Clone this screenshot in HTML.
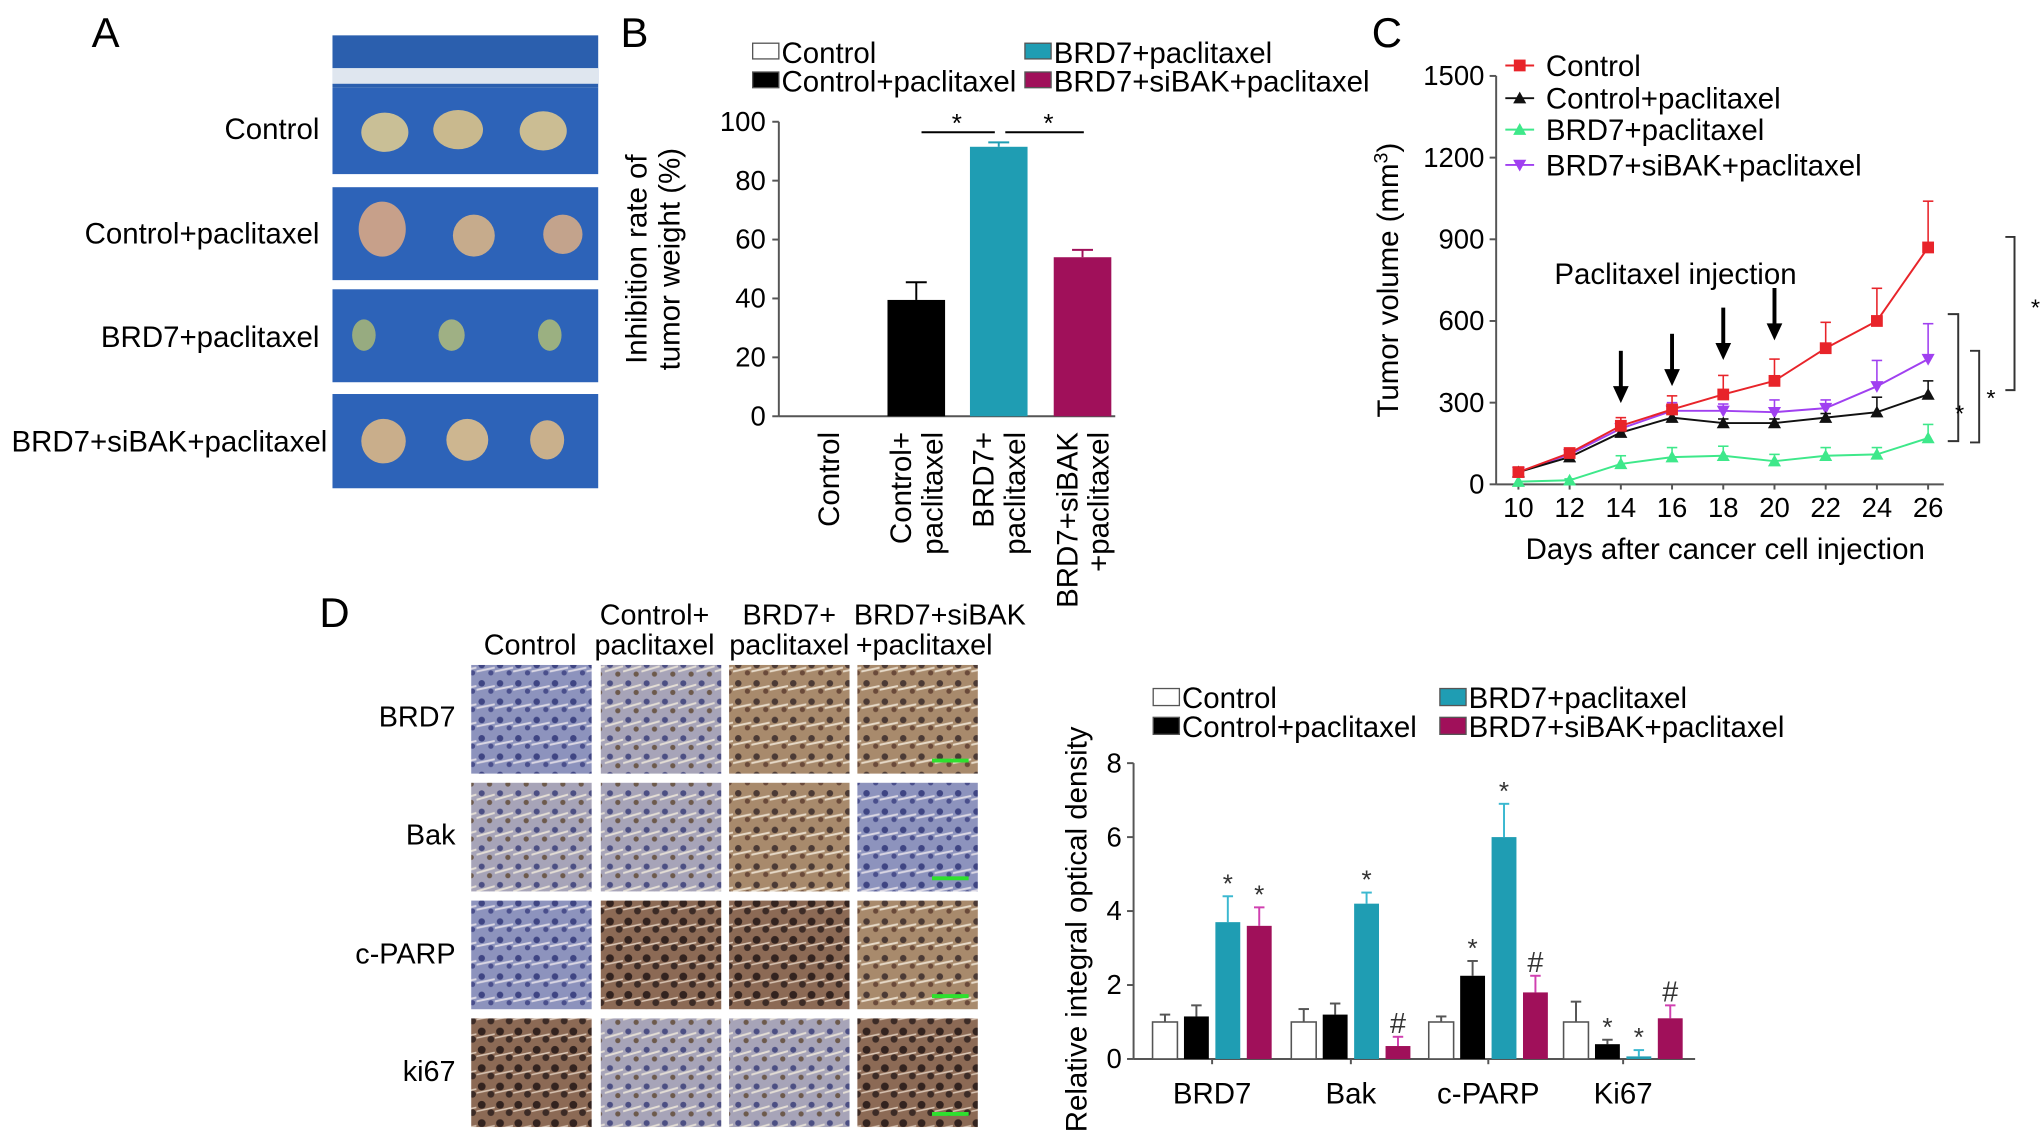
<!DOCTYPE html>
<html><head><meta charset="utf-8"><style>
html,body{margin:0;padding:0;background:#fff}
svg{display:block;font-family:"Liberation Sans",sans-serif}
</style></head><body>
<svg id="fig" width="2042" height="1137" viewBox="0 0 1560 868.6" xmlns="http://www.w3.org/2000/svg">
<defs>
<pattern id="cellsA" width="14" height="14" patternUnits="userSpaceOnUse"><rect width="14" height="14" fill="#8d93bd"/><circle cx="4" cy="4" r="2.5" fill="#3f4583"/><circle cx="11" cy="10" r="2" fill="#4a4f8c"/><path d="M0 9 L14 6" stroke="#d9d6e3" stroke-width="1.5"/></pattern>
<pattern id="cellsB" width="14" height="14" patternUnits="userSpaceOnUse"><rect width="14" height="14" fill="#a7a4b8"/><circle cx="4" cy="4" r="2.3" fill="#4c4f83"/><circle cx="10" cy="11" r="2" fill="#6d5a4c"/><path d="M0 9 L14 5" stroke="#e3ddd5" stroke-width="1.5"/></pattern>
<pattern id="cellsBr" width="14" height="14" patternUnits="userSpaceOnUse"><rect width="14" height="14" fill="#a88a6c"/><circle cx="4" cy="4" r="2.5" fill="#4b3a35"/><circle cx="11" cy="10" r="2" fill="#6a4a3a"/><path d="M0 9 L14 6" stroke="#e6d9c7" stroke-width="1.5"/></pattern>
<pattern id="cellsD" width="14" height="14" patternUnits="userSpaceOnUse"><rect width="14" height="14" fill="#8c6a55"/><circle cx="4" cy="4" r="3" fill="#33231f"/><circle cx="11" cy="10" r="2.6" fill="#3c2b26"/><path d="M0 9 L14 6" stroke="#d8c4b3" stroke-width="1.2"/></pattern>
</defs>

<text x="70" y="36" font-size="32">A</text>
<g>
<rect x="254" y="27" width="203" height="40" fill="#2b5fae"/>
<rect x="254" y="52" width="203" height="12" fill="#dfe6ef"/>
<rect x="254" y="67" width="203" height="66" fill="#2d63b8"/>
<rect x="254" y="143" width="203" height="71" fill="#2d63b8"/>
<rect x="254" y="221" width="203" height="71" fill="#2d63b8"/>
<rect x="254" y="301" width="203" height="72" fill="#2d63b8"/>
<ellipse cx="294" cy="101" rx="18" ry="15" fill="#c9bf96"/><ellipse cx="350" cy="99" rx="19" ry="15" fill="#c9b98e"/><ellipse cx="415" cy="100" rx="18" ry="15" fill="#cbbd93"/>
<ellipse cx="292" cy="175" rx="18" ry="21" fill="#c7a08a"/><ellipse cx="362" cy="180" rx="16" ry="16" fill="#c6ab8c"/><ellipse cx="430" cy="179" rx="15" ry="15" fill="#c3a38c"/>
<ellipse cx="278" cy="256" rx="9" ry="12" fill="#97ab80"/><ellipse cx="345" cy="256" rx="10" ry="12" fill="#9fb084"/><ellipse cx="420" cy="256" rx="9" ry="12" fill="#9bb081"/>
<ellipse cx="293" cy="337" rx="17" ry="17" fill="#c9ae8b"/><ellipse cx="357" cy="336" rx="16" ry="16" fill="#cdb690"/><ellipse cx="418" cy="336" rx="13" ry="15" fill="#c9b08c"/>
</g>
<g font-size="22.5" text-anchor="end">
<text x="244" y="106">Control</text><text x="244" y="186">Control+paclitaxel</text><text x="244" y="265">BRD7+paclitaxel</text><text x="250" y="345">BRD7+siBAK+paclitaxel</text>
</g>

<text x="474" y="36" font-size="32">B</text>
<g id="chartB"></g>

<text x="1048" y="36" font-size="32">C</text>
<g id="chartC"></g>

<text x="244" y="479" font-size="32">D</text>
<g font-size="22" text-anchor="middle">
<text x="405" y="500">Control</text>
<text x="500" y="477">Control+</text><text x="500" y="500">paclitaxel</text>
<text x="603" y="477">BRD7+</text><text x="603" y="500">paclitaxel</text>
<text x="718" y="477">BRD7+siBAK</text><text x="706" y="500">+paclitaxel</text>
</g>
<g font-size="22" text-anchor="end">
<text x="348" y="555">BRD7</text><text x="348" y="645">Bak</text><text x="348" y="736">c-PARP</text><text x="348" y="826">ki67</text>
</g>
<g id="ihc"></g>
<g id="chartD"></g>
</svg>
<script>
const NS="http://www.w3.org/2000/svg";
function el(tag,attrs,parent,txt){const e=document.createElementNS(NS,tag);for(const k in attrs)e.setAttribute(k,attrs[k]);if(txt!==undefined)e.textContent=txt;parent.appendChild(e);return e;}
const FS=22.5, TS=21;

const ihcFills=[["cellsA","cellsB","cellsBr","cellsBr"],["cellsB","cellsB","cellsBr","cellsA"],["cellsA","cellsD","cellsD","cellsBr"],["cellsD","cellsB","cellsB","cellsD"]];
const ihcX=[360,459,557,655],ihcY=[508,598,688,778];
const ihc=document.getElementById('ihc');
ihcY.forEach((y,r)=>ihcX.forEach((x,c)=>{
 const t=el('rect',{x:x,y:y,width:92,height:83,fill:'url(#'+ihcFills[r][c]+')'},ihc);
 
 
 if(c===3){el('line',{x1:712,y1:y+73,x2:740,y2:y+73,stroke:'#2ee02e','stroke-width':3},ihc);}
}));

const bCats=["Control","Control+paclitaxel","BRD7+paclitaxel","BRD7+siBAK+paclitaxel"];
const bVals=[0,39.5,91.5,54];
const bErr=[0,6,1.5,2.5];
const bTicks=[0,20,40,60,80,100];
const bColors=["#ffffff","#000000","#1f9db3","#a0105a"];
(function(){
 const g=document.getElementById('chartB');
 const y0=318,y1=93,x0=595,cx=[633,700,763,827],bw=44;
 const Y=v=>y0-(v/100)*(y0-y1);
 el('line',{x1:x0,y1:Y(100),x2:x0,y2:y0,stroke:'#555','stroke-width':1.5},g);
 el('line',{x1:x0,y1:y0,x2:852,y2:y0,stroke:'#555','stroke-width':1.5},g);
 bTicks.forEach(t=>{el('line',{x1:x0-5,y1:Y(t),x2:x0,y2:Y(t),stroke:'#555','stroke-width':1.5},g);
  const tx=el('text',{x:x0-10,y:Y(t)+7,'font-size':TS,'text-anchor':'end'},g,t);
  });
 bVals.forEach((v,i)=>{
  if(v>0){
   el('line',{x1:cx[i],y1:Y(v),x2:cx[i],y2:Y(v+bErr[i]),stroke:bColors[i],'stroke-width':1.5},g);
   el('line',{x1:cx[i]-8,y1:Y(v+bErr[i]),x2:cx[i]+8,y2:Y(v+bErr[i]),stroke:bColors[i],'stroke-width':1.5},g);
   const b=el('rect',{x:cx[i]-bw/2,y:Y(v),width:bw,height:y0-Y(v),fill:bColors[i]},g);
   }
 });
 el('line',{x1:704,y1:101,x2:760,y2:101,stroke:'#000','stroke-width':1.5},g);
 el('line',{x1:768,y1:101,x2:828,y2:101,stroke:'#000','stroke-width':1.5},g);
 el('text',{x:731,y:101,'font-size':20,'text-anchor':'middle'},g,'*');
 el('text',{x:801,y:101,'font-size':20,'text-anchor':'middle'},g,'*');
 const yt=el('text',{transform:'translate(494,198) rotate(-90)','font-size':FS,'text-anchor':'middle'},g);
 el('tspan',{x:0,dy:0},yt,'Inhibition rate of');el('tspan',{x:0,dy:25},yt,'tumor weight (%)');
 
 const xl=[["Control"],["Control+","paclitaxel"],["BRD7+","paclitaxel"],["BRD7+siBAK","+paclitaxel"]];
 xl.forEach((ls,i)=>ls.forEach((l,j)=>{
  const x=cx[i]+8-(ls.length-1)*12+j*24;
  const t=el('text',{transform:'translate('+x+',330) rotate(-90)','font-size':FS,'text-anchor':'end'},g,l);
  }));
 const leg=[[575,45,0],[575,67,1],[783,45,2],[783,67,3]];
 leg.forEach(([x,y,i])=>{el('rect',{x:x,y:y-12,width:20,height:12,fill:bColors[i],stroke:'#555','stroke-width':1},g);
  const t=el('text',{x:x+22,y:y+3,'font-size':FS},g,bCats[i]);
  });
})();

const cDays=[10,12,14,16,18,20,22,24,26];
const cTicks=[0,300,600,900,1200,1500];
const cNames=["Control","Control+paclitaxel","BRD7+paclitaxel","BRD7+siBAK+paclitaxel"];
const cControl=[45,115,215,275,330,380,500,600,870];
const cControlErr=[0,10,30,50,70,80,95,120,170];
const cCtrlPac=[45,100,190,245,225,225,245,265,330];
const cCtrlPacErr=[0,5,15,20,15,15,15,55,50];
const cBrd7=[10,15,75,100,105,85,105,110,170];
const cBrd7Err=[0,5,30,35,35,25,30,25,50];
const cSiBak=[45,110,205,270,270,265,280,360,460];
const cSiBakErr=[0,5,20,30,25,45,30,95,130];
const cArrows=[14,16,18,20];
(function(){
 const g=document.getElementById('chartC');
 const x0=1143,y0=370,y1=58;
 const X=d=>1160+(d-10)*(313/16);
 const Y=v=>y0-(v/1500)*(y0-y1);
 el('line',{x1:x0,y1:y1,x2:x0,y2:y0,stroke:'#555','stroke-width':1.5},g);
 el('line',{x1:x0,y1:y0,x2:1485,y2:y0,stroke:'#555','stroke-width':1.5},g);
 cTicks.forEach(t=>{el('line',{x1:x0-5,y1:Y(t),x2:x0,y2:Y(t),stroke:'#555','stroke-width':1.5},g);
  const tx=el('text',{x:x0-9,y:Y(t)+7,'font-size':TS,'text-anchor':'end'},g,t);
  });
 cDays.forEach(d=>{el('line',{x1:X(d),y1:y0,x2:X(d),y2:y0+4,stroke:'#555','stroke-width':1.5},g);
  const tx=el('text',{x:X(d),y:y0+25,'font-size':TS,'text-anchor':'middle'},g,d);
  });
 const xt=el('text',{x:1318,y:427,'font-size':FS,'text-anchor':'middle'},g,'Days after cancer cell injection');
 
 const yt=el('text',{transform:'translate(1068,214) rotate(-90)','font-size':FS,'text-anchor':'middle'},g);
 el('tspan',{},yt,'Tumor volume (mm');el('tspan',{dy:-8,'font-size':15},yt,'3');el('tspan',{dy:8},yt,')');
 
 const series=[[cControl,cControlErr,'#e8242a','sq'],[cCtrlPac,cCtrlPacErr,'#111','tri'],[cBrd7,cBrd7Err,'#3ee88a','tri'],[cSiBak,cSiBakErr,'#a040f0','itri']];
 function marker(x,y,t,c,parent){
  if(t==='sq')return el('rect',{x:x-4.5,y:y-4.5,width:9,height:9,fill:c},parent);
  if(t==='tri')return el('path',{d:`M${x} ${y-5}L${x+5} ${y+4}L${x-5} ${y+4}Z`,fill:c},parent);
  return el('path',{d:`M${x} ${y+5}L${x+5} ${y-4}L${x-5} ${y-4}Z`,fill:c},parent);}
 [3,2,1,0].forEach(si=>{const [vals,err,c,m]=series[si];
  const sg=el('g',{},g);
  vals.forEach((v,i)=>{if(err[i]>0){el('line',{x1:X(cDays[i]),y1:Y(v),x2:X(cDays[i]),y2:Y(v+err[i]),stroke:c,'stroke-width':1.2},sg);
   el('line',{x1:X(cDays[i])-4,y1:Y(v+err[i]),x2:X(cDays[i])+4,y2:Y(v+err[i]),stroke:c,'stroke-width':1.2},sg);}});
  el('polyline',{points:vals.map((v,i)=>X(cDays[i])+','+Y(v)).join(' '),fill:'none',stroke:c,'stroke-width':1.5},sg);
  vals.forEach((v,i)=>{const mk=marker(X(cDays[i]),Y(v),m,c,sg);});
 });
 const arrowTops=[268,255,235,220];
 cArrows.forEach((d,i)=>{const x=X(d);el('line',{x1:x,y1:arrowTops[i],x2:x,y2:arrowTops[i]+30,stroke:'#000','stroke-width':3},g);
  el('path',{d:`M${x-6} ${arrowTops[i]+27}L${x+6} ${arrowTops[i]+27}L${x} ${arrowTops[i]+40}Z`,fill:'#000'},g);});
 el('text',{x:1280,y:217,'font-size':FS,'text-anchor':'middle'},g,'Paclitaxel injection');
 el('path',{d:'M1488 240 L1496 240 L1496 337 L1488 337',fill:'none',stroke:'#333','stroke-width':1.5},g);
 el('path',{d:'M1505 268 L1512 268 L1512 338 L1505 338',fill:'none',stroke:'#333','stroke-width':1.5},g);
 el('path',{d:'M1532 181 L1539 181 L1539 298 L1532 298',fill:'none',stroke:'#333','stroke-width':1.5},g);
 el('text',{x:1497,y:322,'font-size':18,'text-anchor':'middle'},g,'*');
 el('text',{x:1521,y:310,'font-size':18,'text-anchor':'middle'},g,'*');
 el('text',{x:1555,y:241,'font-size':18,'text-anchor':'middle'},g,'*');
 const ly=[50,75,99,126];
 series.forEach(([v,e,c,m],i)=>{const y=ly[i];
  el('line',{x1:1150,y1:y,x2:1172,y2:y,stroke:c,'stroke-width':1.5},g);marker(1161,y,m,c,g);
  const t=el('text',{x:1181,y:y+8,'font-size':FS},g,cNames[i]);});
})();

const dCats=["BRD7","Bak","c-PARP","Ki67"];
const dGroups=["Control","Control+paclitaxel","BRD7+paclitaxel","BRD7+siBAK+paclitaxel"];
const dControl=[1.0,1.0,1.0,1.0];
const dControlErr=[0.2,0.35,0.15,0.55];
const dCtrlPac=[1.15,1.2,2.25,0.4];
const dCtrlPacErr=[0.3,0.3,0.4,0.12];
const dBrd7=[3.7,4.2,6.0,0.07];
const dBrd7Err=[0.7,0.3,0.9,0.17];
const dSiBak=[3.6,0.35,1.8,1.1];
const dSiBakErr=[0.5,0.25,0.45,0.35];
const dMarks=[["","","*","*"],["","","*","#"],["","*","*","#"],["","*","*","#"]];
const dTicks=[0,2,4,6,8];
(function(){
 const g=document.getElementById('chartD');
 const x0=866,y0=809,y1=583;
 const Y=v=>y0-(v/8)*(y0-y1);
 const groupX=[926,1032,1137,1240];
 const off=[-36,-12,12,36],bw=19;
 const cols=["#ffffff","#000000","#1f9db3","#a0105a"];
 const errC=["#555","#555","#3bb8d0","#d040b0"];
 el('line',{x1:x0,y1:y1,x2:x0,y2:y0,stroke:'#555','stroke-width':1.5},g);
 el('line',{x1:x0,y1:y0,x2:1295,y2:y0,stroke:'#555','stroke-width':1.5},g);
 dTicks.forEach(t=>{el('line',{x1:x0-5,y1:Y(t),x2:x0,y2:Y(t),stroke:'#555','stroke-width':1.5},g);
  const tx=el('text',{x:x0-9,y:Y(t)+7,'font-size':TS,'text-anchor':'end'},g,t);
  });
 const all=[[dControl,dControlErr],[dCtrlPac,dCtrlPacErr],[dBrd7,dBrd7Err],[dSiBak,dSiBakErr]];
 dCats.forEach((c,ci)=>{
  el('line',{x1:groupX[ci],y1:y0,x2:groupX[ci],y2:y0+4,stroke:'#555','stroke-width':1.5},g);
  const tx=el('text',{x:groupX[ci],y:y0+34,'font-size':FS,'text-anchor':'middle'},g,c);
  
  all.forEach(([vals,errs],si)=>{const x=groupX[ci]+off[si],v=vals[ci],e=errs[ci];
   el('line',{x1:x,y1:Y(v),x2:x,y2:Y(v+e),stroke:errC[si],'stroke-width':1.5},g);
   el('line',{x1:x-4,y1:Y(v+e),x2:x+4,y2:Y(v+e),stroke:errC[si],'stroke-width':1.5},g);
   const b=el('rect',{x:x-bw/2,y:Y(v),width:bw,height:y0-Y(v),fill:cols[si],stroke:si===0?'#555':'none','stroke-width':1.2},g);
   
   const m=dMarks[ci][si];if(m){el('text',{x:x,y:Y(v+e)-3,'font-size':m==='#'?22:20,'text-anchor':'middle',fill:'#333'},g,m);}
  });
 });
 const yt=el('text',{transform:'translate(830,710) rotate(-90)','font-size':FS,'text-anchor':'middle'},g,'Relative integral optical density');
 
 const leg=[[881,538,0],[881,560,1],[1100,538,2],[1100,560,3]];
 leg.forEach(([x,y,i])=>{el('rect',{x:x,y:y-12,width:20,height:13,fill:cols[i],stroke:'#555','stroke-width':1},g);
  const t=el('text',{x:x+22,y:y+3,'font-size':FS},g,dGroups[i]);
  });
})();
</script>
</body></html>
